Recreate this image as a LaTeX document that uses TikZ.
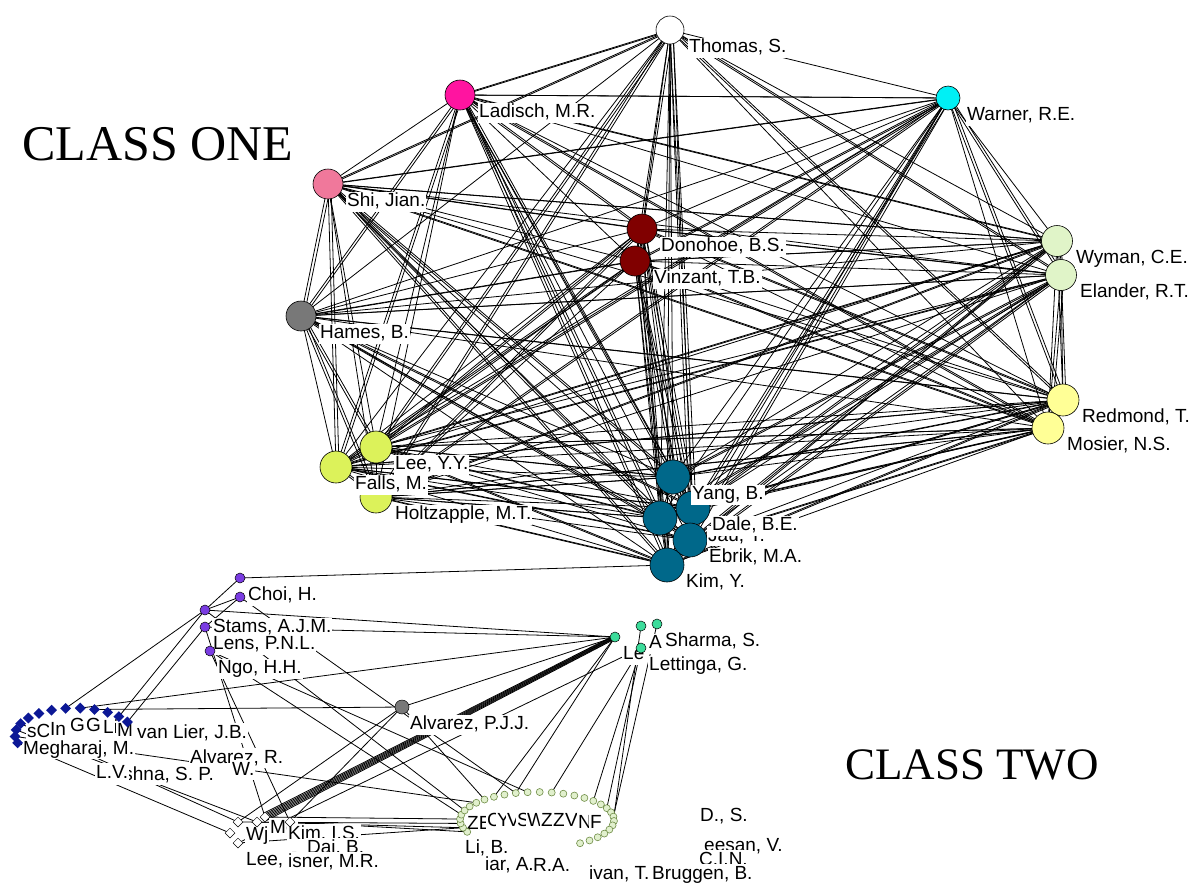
\documentclass[tikz,border=0pt]{standalone}
\usepackage{fontspec}
\setmainfont{Liberation Serif}
\newfontfamily\namefont{Liberation Sans}
\usetikzlibrary{shapes.geometric,positioning,backgrounds}

\definecolor{ladischpink}{RGB}{255,20,160}
\definecolor{warnercyan}{RGB}{0,240,245}
\definecolor{shipink}{RGB}{240,120,155}
\definecolor{nrelred}{RGB}{128,0,0}
\definecolor{hamesgray}{RGB}{120,120,120}
\definecolor{dartgreen}{RGB}{224,244,200}
\definecolor{purdueyellow}{RGB}{255,255,150}
\definecolor{tamulime}{RGB}{220,242,90}
\definecolor{msuteal}{RGB}{0,104,138}
\definecolor{ugpurple}{RGB}{122,60,226}
\definecolor{wagmint}{RGB}{60,220,155}
\definecolor{arcnavy}{RGB}{12,24,150}
\definecolor{ringfill}{RGB}{225,240,205}
\definecolor{ringedge}{RGB}{110,140,70}

\tikzset{
    link/.style={line width=0.8pt},
    bigauthor/.style={
        draw=black,
        circle,
        minimum size=30pt,
        inner sep=0pt,
        line width=0.6pt,
    },
    smallauthor/.style={
        draw=black,
        circle,
        minimum size=10pt,
        inner sep=0pt,
        line width=0.5pt,
    },
    arcauthor/.style={diamond, fill=arcnavy, minimum size=11pt, inner sep=0pt},
    ringauthor/.style={circle, draw=ringedge, fill=ringfill, minimum size=7pt, inner sep=0pt, line width=0.6pt},
    whiteauthor/.style={diamond, draw=black, fill=white, minimum size=10pt, inner sep=0pt, line width=0.5pt},
    authorname/.style={
        font=\namefont\fontsize{19}{21}\selectfont,
        fill=white,
        inner sep=1pt,
        text height=14pt,
        text depth=4pt,
        anchor=north west,
    },
    bigname/.style={authorname, below right=7.5pt and 18pt of #1.center},
    smallname/.style={authorname, below right=7.5pt and 7pt of #1.center},
    classtitle/.style={font=\fontsize{#1}{#1}\selectfont, inner sep=0pt, anchor=base west},
}

\begin{document}
\begin{tikzpicture}[x=1pt, y=-1pt]
    \useasboundingbox (0,0) rectangle (1199,887);

    % class one
    \node[bigauthor, fill=white, minimum size=28pt] (thomas) at (670,30) {};
    \node[bigauthor, fill=ladischpink] (ladisch) at (460,95) {};
    \node[bigauthor, fill=warnercyan, minimum size=24pt] (warner) at (948,98) {};
    \node[bigauthor, fill=shipink] (shi) at (328,184) {};
    \node[bigauthor, fill=nrelred] (donohoe) at (642,229) {};
    \node[bigauthor, fill=nrelred] (vinzant) at (635,261) {};
    \node[bigauthor, fill=dartgreen, minimum size=31pt] (wyman) at (1057,241) {};
    \node[bigauthor, fill=dartgreen, minimum size=31pt] (elander) at (1061,275) {};
    \node[bigauthor, fill=hamesgray] (hames) at (301,316) {};
    \node[bigauthor, fill=purdueyellow, minimum size=32pt] (redmond) at (1063,400) {};
    \node[bigauthor, fill=purdueyellow, minimum size=32pt] (mosier) at (1048,428) {};
    \node[bigauthor, fill=tamulime, minimum size=32pt] (holtz) at (376,497) {};
    \node[bigauthor, fill=tamulime, minimum size=32pt] (falls) at (336,467) {};
    \node[bigauthor, fill=tamulime, minimum size=32pt] (leeyy) at (376,447) {};
    \node[bigauthor, fill=msuteal, minimum size=34pt] (yang) at (673,477) {};
    \node[bigauthor, fill=msuteal, minimum size=34pt] (dale) at (693,508) {};
    \node[bigauthor, fill=msuteal, minimum size=34pt] (jan) at (660,518) {};
    \node[bigauthor, fill=msuteal, minimum size=34pt] (ebrik) at (690,540) {};
    \node[bigauthor, fill=msuteal, minimum size=34pt] (kim) at (667,565) {};

    \node[bigname=thomas] (thomas-l) {Thomas, S.};
    \node[bigname=ladisch] (ladisch-l) {Ladisch, M.R.};
    \node[bigname=warner] (warner-l) {Warner, R.E.};
    \node[bigname=shi] (shi-l) {Shi, Jian.};
    \node[bigname=donohoe] (donohoe-l) {Donohoe, B.S.};
    \node[bigname=vinzant] (vinzant-l) {Vinzant, T.B.};
    \node[bigname=wyman] (wyman-l) {Wyman, C.E.};
    \node[bigname=elander] (elander-l) {Elander, R.T.};
    \node[bigname=hames] (hames-l) {Hames, B.};
    \node[bigname=redmond] (redmond-l) {Redmond, T.};
    \node[bigname=mosier] (mosier-l) {Mosier, N.S.};
    \node[bigname=leeyy] (leeyy-l) {Lee, Y.Y.};
    \node[bigname=falls] (falls-l) {Falls, M.};
    \node[bigname=holtz] (holtz-l) {Holtzapple, M.T.};
    \node[authorname] (jan-l) at (707,526) {Jau, Y.};
    \node[bigname=yang] (yang-l) {Yang, B.};
    \node[bigname=dale] (dale-l) {Dale, B.E.};
    \node[bigname=ebrik] (ebrik-l) {Ebrik, M.A.};
    \node[bigname=kim] (kim-l) {Kim, Y.};

    % class two
    \node[authorname] (sc-l) at (26,722) {sC};
    \node[authorname] (in-l) at (49,720) {In};
    \node[authorname] (ga-l) at (69,716) {G};
    \node[authorname] (gb-l) at (85,716) {G};
    \node[authorname] (li-l) at (102,718) {Li};
    \node[authorname] (m-l) at (116,721) {M};
    \node[authorname] (vanlier-l) at (136,723) {van Lier, J.B.};
    \node[authorname] (megharaj-l) at (22,739) {Megharaj, M.};
    \node[authorname] (alvarezr-l) at (189,748) {Alvarez, R.};
    \node[authorname] (krishna-l) at (99,765) {Krishna, S. P.};
    \node[authorname] (lv-l) at (95,763) {L.V.};
    \node[authorname] (w-l) at (231,760) {W.};
    \foreach \t [count=\k] in {197,183,...,29}
        \node[arcauthor] (b\k) at ({75+60*cos(\t)},{735-27*sin(\t)}) {};

    \node[smallauthor, fill=ugpurple] (choi) at (240,578) {};
    \node[smallname=choi] (choi-l) {Choi, H.};
    \node[smallauthor, fill=ugpurple] (uhe) at (240,597) {};
    \node[smallauthor, fill=ugpurple] (stams) at (205,610) {};
    \node[smallname=stams] (stams-l) {Stams, A.J.M.};
    \node[smallauthor, fill=ugpurple] (lens) at (205,627) {};
    \node[smallname=lens] (lens-l) {Lens, P.N.L.};
    \node[smallauthor, fill=ugpurple] (ngo) at (210,651) {};
    \node[smallname=ngo] (ngo-l) {Ngo, H.H.};

    \node[smallauthor, fill=hamesgray, minimum size=14pt] (alv) at (402,707) {};
    \node[smallname=alv] (alv-l) {Alvarez, P.J.J.};

    \node[smallauthor, fill=wagmint] (wa) at (615,637) {};
    \node[smallname=wa] (wa-l) {Le};
    \node[smallauthor, fill=wagmint] (wb) at (641,626) {};
    \node[smallname=wb] (wb-l) {A};
    \node[smallauthor, fill=wagmint] (wc) at (657,624) {};
    \node[smallname=wc] (wc-l) {Sharma, S.};
    \node[smallauthor, fill=wagmint] (wd) at (641,648) {};
    \node[smallname=wd] (wd-l) {Lettinga, G.};

    \node[authorname] (wj-l) at (245,825) {Wj};
    \node[authorname] (me-l) at (269,818) {Me};
    \node[authorname] (kimis-l) at (287,824) {Kim, I.S.};
    \node[authorname] (dai-l) at (306,838) {Dai, B.};
    \node[authorname] (leej-l) at (245,850) {Lee, J.};
    \node[authorname] (isner-l) at (287,852) {isner, M.R.};
    \node[whiteauthor] (xa) at (238,822) {};
    \node[whiteauthor] (xb) at (230,833) {};
    \node[whiteauthor] (xc) at (238,843) {};
    \node[whiteauthor] (xd) at (257,822) {};
    \node[whiteauthor] (xe) at (265,817) {};
    \node[whiteauthor] (xf) at (290,822) {};

    \foreach \l/\x/\y [count=\k] in {ZE/466/814, C/486/811, Y/496/811, V/506/811, S/516/811,
        W/526/811, Z/540/811, Z/552/811, V/564/811, N/577/813, F/589/813}
        \node[authorname] (ring\k-l) at (\x,\y) {\l};
    \node[authorname] (lib-l) at (464,838) {Li, B.};
    \node[authorname] (iar-l) at (484,855) {iar, A.};
    \node[authorname] (ra-l) at (532,856) {R.A.};
    \node[authorname] (ds-l) at (699,806) {D., S.};
    \node[authorname] (esan-l) at (703,836) {eesan, V.};
    \node[authorname] (cin-l) at (698,850) {C.I.N.};
    \node[authorname] (bruggen-l) at (651,864) {Bruggen, B.};
    \node[authorname] (ivan-l) at (588,864) {ivan, T.};
    \foreach \t [count=\k] in {205,196,...,-56}
        \node[ringauthor] (r\k) at ({537+77*cos(\t)},{820-28*sin(\t)}) {};

    \node[classtitle=50] (one) at (22,160) {CLASS ONE};
    \node[classtitle=45] (two) at (845,779) {CLASS TWO};

    \begin{scope}[on background layer]
        % every pair in class one, some of them twice
        \foreach \a [count=\i] in {thomas,ladisch,warner,shi,donohoe,vinzant,wyman,elander,hames,
            redmond,mosier,leeyy,falls,holtz,yang,dale,jan,ebrik,kim} {
            \foreach \b [count=\j] in {thomas,ladisch,warner,shi,donohoe,vinzant,wyman,elander,hames,
                redmond,mosier,leeyy,falls,holtz,yang,dale,jan,ebrik,kim} {
                \ifnum\j>\i
                    \draw[link] (\a.center) -- (\b.center);
                    \ifodd\numexpr\i+\j\relax
                        \draw[link] ([xshift=3pt]\a.center) -- ([xshift=3pt]\b.center);
                    \fi
                \fi
            }
        }
        \foreach \a/\b in {choi/kim, stams/wa, lens/wa, stams/uhe, lens/uhe, stams/choi,
            b8/stams, b12/stams, b13/lens, b9/wa, b10/alv, alv/wa,
            b1/xb, b4/xa, b2/r8, b3/xd, uhe/r12, ngo/r13, ngo/xf, lens/xe,
            alv/xf, alv/xa, wd/xc, wa/r10, wa/r12, wd/r15, wd/r19, wd/r21, wc/r23, wb/r25,
            xa/r3, xd/r2, xe/r4, xf/r1, xc/r2, stams/r6, ngo/r5, alv/r9}
            \draw[link] (\a.center) -- (\b.center);
        \foreach \s in {-4,-2.7,...,4.5}
            \draw[link] ([shift={(0.46*\s,0.88*\s)}]xe.center) -- ([shift={(0.2*\s,0.4*\s)}]wa.center);
    \end{scope}
\end{tikzpicture}
\end{document}
